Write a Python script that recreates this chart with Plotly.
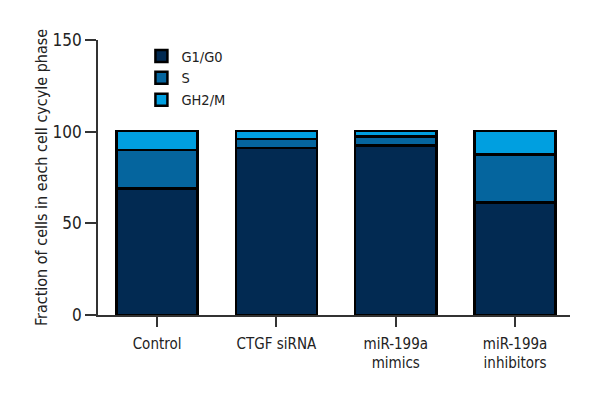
import plotly.graph_objects as go

categories = ["Control", "CTGF siRNA", "miR-199a<br>mimics", "miR-199a<br>inhibitors"]
g1_g0 = [69, 91, 92.5, 61.5]
s_phase = [21, 5, 5, 26]
g2_m = [10.5, 4.5, 3, 13]
series_names = ["G1/G0", "S", "GH2/M"]
colors = ["#022a52", "#05659e", "#009fe0"]

font_family = "DejaVu Sans Condensed, Liberation Sans Narrow, sans-serif"

fig = go.Figure()
for name, vals, col in zip(series_names, [g1_g0, s_phase, g2_m], colors):
    fig.add_trace(go.Bar(
        x=list(range(len(categories))), y=vals, name=name, legendgroup=name,
        marker=dict(color=col, line=dict(color="#000000", width=2.5)),
        width=0.68,
    ))

fig.update_layout(
    barmode="stack",
    width=600, height=400,
    margin=dict(l=90, r=38, t=32, b=93),
    plot_bgcolor="white", paper_bgcolor="white",
    font=dict(family=font_family, size=15, color="#222222"),
    showlegend=True,
    legend=dict(
        x=0.092, y=1.0, xanchor="left", yanchor="top",
        traceorder="normal", font=dict(size=14.5),
        bgcolor="rgba(0,0,0,0)", tracegroupgap=4,
    ),
    xaxis=dict(
        tickmode="array", tickvals=list(range(len(categories))), ticktext=categories,
        range=[-0.495, 3.46], showline=True, linecolor="#333333", linewidth=1.8,
        ticks="outside", ticklen=10, tickcolor="#333333", tickwidth=1.5,
        showgrid=False, zeroline=False, automargin=False, ticklabelstandoff=4,
    ),
    yaxis=dict(
        range=[0, 150], tickvals=[0, 50, 100, 150], showline=True,
        linecolor="#333333", linewidth=1.8, ticks="outside", ticklen=11,
        tickcolor="#333333", tickwidth=1.5, showgrid=False, zeroline=False,
        automargin=False,
        title=dict(text="Fraction of cells in each cell cycyle phase", font=dict(size=16), standoff=1),
        tickfont=dict(size=17),
    ),
)

fig.write_html("out.html")
